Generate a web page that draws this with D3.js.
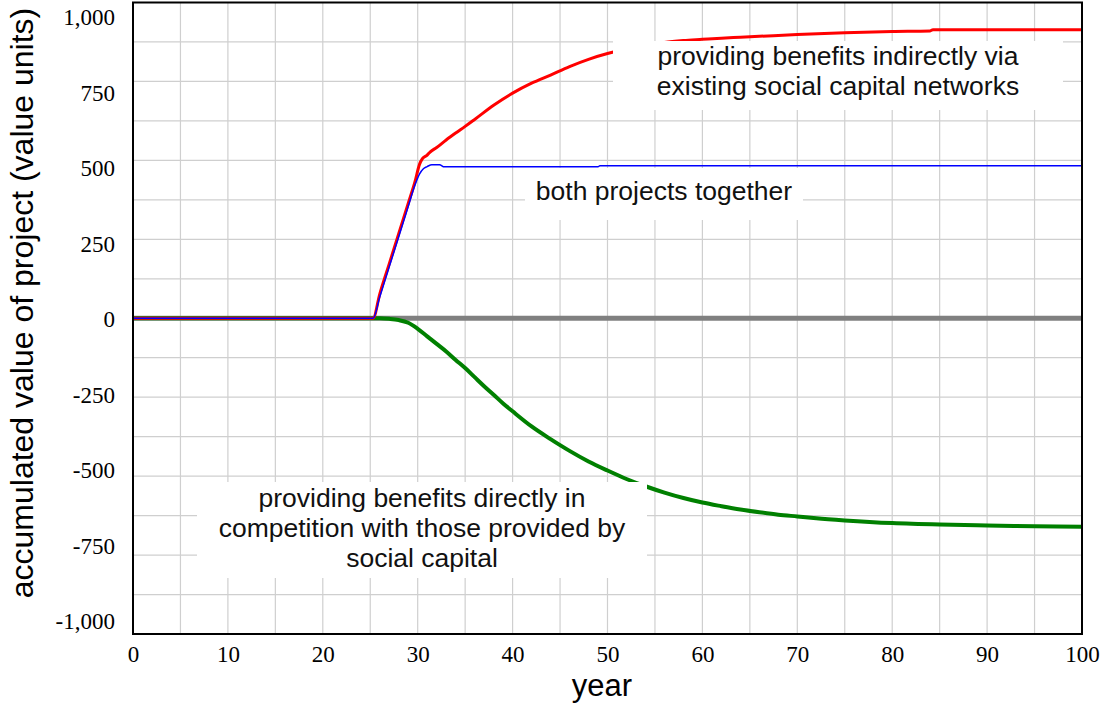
<!DOCTYPE html>
<html>
<head>
<meta charset="utf-8">
<script src="https://cdn.jsdelivr.net/npm/d3@7"></script>
<style>
  html, body { margin: 0; padding: 0; background: #fff; }
  svg { display: block; }
</style>
</head>
<body>
<svg id="chart" width="1100" height="704"></svg>
<script>
// ---------- data ----------
const redYears   = [0, 25, 25.3, 26, 27, 28, 29, 29.7, 30.2, 30.5, 31, 31.3, 32, 33, 34, 35, 36, 38, 40, 42, 44, 46, 48, 50, 52, 54, 56, 58, 60, 62, 64, 66, 70, 75, 80, 84, 84.3, 90, 95, 100];
const redValues  = [0, 0, 0, 80, 180, 280, 380, 450, 510, 528, 540, 550, 565, 590, 613, 635, 658, 705, 745, 778, 805, 833, 857, 876, 891, 903, 913, 919, 923, 927, 930, 933, 939, 945, 949, 951, 955, 955, 955, 955];

const blueYears  = [0, 25, 25.3, 26, 27, 28, 29, 29.7, 30.2, 30.6, 31, 31.5, 32.3, 32.8, 35, 49, 49.2, 100];
const blueValues = [0, 0, 0, 70, 170, 270, 370, 440, 478, 495, 502, 508, 508, 501, 501, 501, 505, 505];

const greenYears  = [0, 26, 27, 28, 29, 30, 31, 32, 33, 34, 35, 36, 37, 38, 39, 40, 42, 44, 45, 46, 48, 50, 52, 54, 56, 58, 60, 62, 64, 66, 68, 70, 72, 75, 80, 85, 90, 95, 100];
const greenValues = [0, 0, -2, -6, -15, -35, -60, -85, -110, -138, -165, -195, -225, -253, -282, -308, -358, -400, -420, -439, -474, -504, -532, -556, -577, -595, -610, -622, -633, -642, -650, -656, -662, -669, -678, -683, -686, -688, -690];

const zeroYears  = [0, 100];
const zeroValues = [0, 0];

const xTickValues = [0, 10, 20, 30, 40, 50, 60, 70, 80, 90, 100];
const xTickLabels = ["0", "10", "20", "30", "40", "50", "60", "70", "80", "90", "100"];
const yTickValues = [-1000, -750, -500, -250, 0, 250, 500, 750, 1000];
const yTickLabels = ["-1,000", "-750", "-500", "-250", "0", "250", "500", "750", "1,000"];

const labelIndirect = ["providing benefits indirectly via", "existing social capital networks"];
const labelBoth = ["both projects together"];
const labelDirect = ["providing benefits directly in", "competition with those provided by", "social capital"];

const xTitle = "year";
const yTitle = "accumulated value of project (value units)";

// ---------- layout ----------
const svg = d3.select("#chart");
const pLeft = 133, pRight = 1082, pTop = 2.5, pBottom = 634;
const x = d3.scaleLinear().domain([0, 100]).range([pLeft, pRight]);
const y = d3.scaleLinear().domain([-1045, 1045]).range([pBottom, pTop]);

// grid
const grid = svg.append("g").attr("stroke", "#cfcfcf").attr("stroke-width", 1.2);
d3.range(0, 101, 5).forEach(v => {
  grid.append("line").attr("x1", x(v)).attr("x2", x(v)).attr("y1", pTop).attr("y2", pBottom);
});
const yGridScale = d3.scaleLinear().domain([0, 16]).range([pBottom, pTop]);
d3.range(0, 17).forEach(k => {
  grid.append("line").attr("x1", pLeft).attr("x2", pRight).attr("y1", yGridScale(k)).attr("y2", yGridScale(k));
});

// lines
const line = d3.line().x(d => x(d[0])).y(d => y(d[1])).curve(d3.curveMonotoneX);
const zip = (a, b) => a.map((v, i) => [v, b[i]]);

svg.append("path").datum(zip(zeroYears, zeroValues)).attr("d", line)
  .attr("fill", "none").attr("stroke", "#808080").attr("stroke-width", 5);
svg.append("path").datum(zip(greenYears, greenValues)).attr("d", line)
  .attr("fill", "none").attr("stroke", "#008000").attr("stroke-width", 4).attr("stroke-linejoin", "round");
svg.append("path").datum(zip(redYears, redValues)).attr("d", line)
  .attr("fill", "none").attr("stroke", "#ff0000").attr("stroke-width", 3).attr("stroke-linejoin", "round");
svg.append("path").datum(zip(blueYears, blueValues)).attr("d", line)
  .attr("fill", "none").attr("stroke", "#0000ff").attr("stroke-width", 1.5).attr("stroke-linejoin", "round");

// label boxes
function labelBox(lines, bx0, by0, bx1, by1, firstBaseline, lineH) {
  const g = svg.append("g");
  g.append("rect").attr("x", bx0).attr("y", by0).attr("width", bx1 - bx0).attr("height", by1 - by0).attr("fill", "#fff");
  lines.forEach((t, i) => {
    g.append("text").attr("x", (bx0 + bx1) / 2).attr("y", firstBaseline + i * lineH)
      .attr("text-anchor", "middle")
      .attr("font-family", "'Liberation Sans', Arial, sans-serif")
      .attr("font-size", 26.5).attr("fill", "#111").text(t);
  });
}
labelBox(labelIndirect, 613, 41, 1063, 110, 65, 30);
labelBox(labelBoth, 525, 168, 803, 220, 200, 30);
labelBox(labelDirect, 197, 482, 647, 578, 507, 30);

// frame
svg.append("rect").attr("x", pLeft).attr("y", pTop).attr("width", pRight - pLeft).attr("height", pBottom - pTop)
  .attr("fill", "none").attr("stroke", "#000").attr("stroke-width", 2);

// axes
const xAxis = d3.axisBottom(x).tickValues(xTickValues).tickSize(0).tickPadding(12)
  .tickFormat((d, i) => xTickLabels[i]);
const gx = svg.append("g").attr("transform", `translate(0,${pBottom})`).call(xAxis);
gx.select(".domain").remove();
gx.selectAll("text").attr("font-family", "'Liberation Serif', 'Times New Roman', serif").attr("font-size", 23).attr("fill", "#000");

const yAxis = d3.axisLeft(y).tickValues(yTickValues).tickSize(0).tickPadding(18)
  .tickFormat((d, i) => yTickLabels[i]);
const gy = svg.append("g").attr("transform", `translate(${pLeft},1)`).call(yAxis);
gy.select(".domain").remove();
gy.selectAll("text").attr("font-family", "'Liberation Serif', 'Times New Roman', serif").attr("font-size", 23).attr("fill", "#000");

// titles
svg.append("text").attr("x", 602).attr("y", 696).attr("text-anchor", "middle")
  .attr("font-family", "'Liberation Sans', Arial, sans-serif").attr("font-size", 31).attr("fill", "#000").text(xTitle);
svg.append("text").attr("transform", "translate(33,303) rotate(-90)").attr("text-anchor", "middle")
  .attr("font-family", "'Liberation Sans', Arial, sans-serif").attr("font-size", 32).attr("fill", "#000").text(yTitle);
</script>
</body>
</html>
